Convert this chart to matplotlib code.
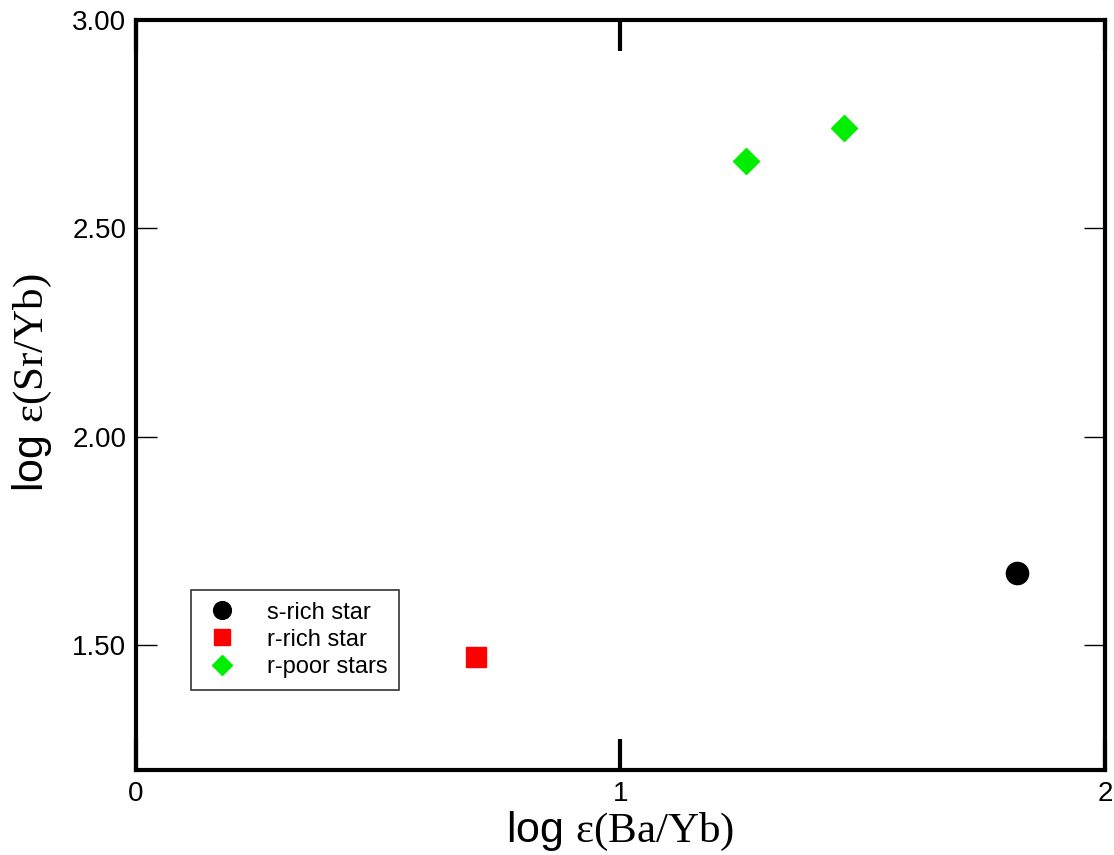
import matplotlib.pyplot as plt
from matplotlib.ticker import FixedLocator, FormatStrFormatter

plt.rcParams['font.family'] = ['Liberation Sans', 'DejaVu Sans']
plt.rcParams['mathtext.fontset'] = 'custom'
plt.rcParams['mathtext.rm'] = 'Liberation Serif'
plt.rcParams['mathtext.it'] = 'Liberation Serif:italic'

# log eps(Ba/Yb), log eps(Sr/Yb) per star group
s_rich_x = [1.819]
s_rich_y = [1.673]
r_rich_x = [0.701]
r_rich_y = [1.471]
r_poor_x = [1.260, 1.462]
r_poor_y = [2.662, 2.741]

x_ticks = [0, 1, 2]
y_ticks = [1.5, 2.0, 2.5, 3.0]

fig = plt.figure(figsize=(11.14, 8.55), dpi=100)
ax = fig.add_axes([0.122, 0.0994, 0.870, 0.8772])

ax.plot(s_rich_x, s_rich_y, 'o', color='black', ms=16, label='s-rich star')
ax.plot(r_rich_x, r_rich_y, 's', color='#ff0000', ms=14, label='r-rich star')
ax.plot(r_poor_x, r_poor_y, 'D', color='#00ee00', ms=13, label='r-poor stars')

ax.set_xlim(0, 2)
ax.set_ylim(1.2, 3.0)
ax.xaxis.set_major_locator(FixedLocator(x_ticks))
ax.yaxis.set_major_locator(FixedLocator(y_ticks))
ax.yaxis.set_major_formatter(FormatStrFormatter('%.2f'))

for sp in ax.spines.values():
    sp.set_linewidth(3)

ax.tick_params(axis='x', direction='in', top=True, length=22, width=3,
               labelsize=20, pad=8)
ax.tick_params(axis='y', direction='in', right=True, length=15, width=1,
               labelsize=20, pad=7)

ax.set_xlabel(r'log $\mathrm{\varepsilon(Ba/Yb)}$', fontsize=31)
ax.set_ylabel(r'log $\mathrm{\varepsilon(Sr/Yb)}$', fontsize=31)
ax.xaxis.set_label_coords(0.5, -0.053)
ax.yaxis.set_label_coords(-0.085, 0.517)

leg = ax.legend(loc='lower left', bbox_to_anchor=(0.057, 0.107), fontsize=17,
                frameon=True, fancybox=False, borderpad=0.5,
                borderaxespad=0, handletextpad=1.1, labelspacing=0.22,
                markerscale=0.8, handlelength=1.6)
leg.get_frame().set_edgecolor('black')
leg.get_frame().set_linewidth(1.2)

fig.savefig('out.png', dpi=100)
